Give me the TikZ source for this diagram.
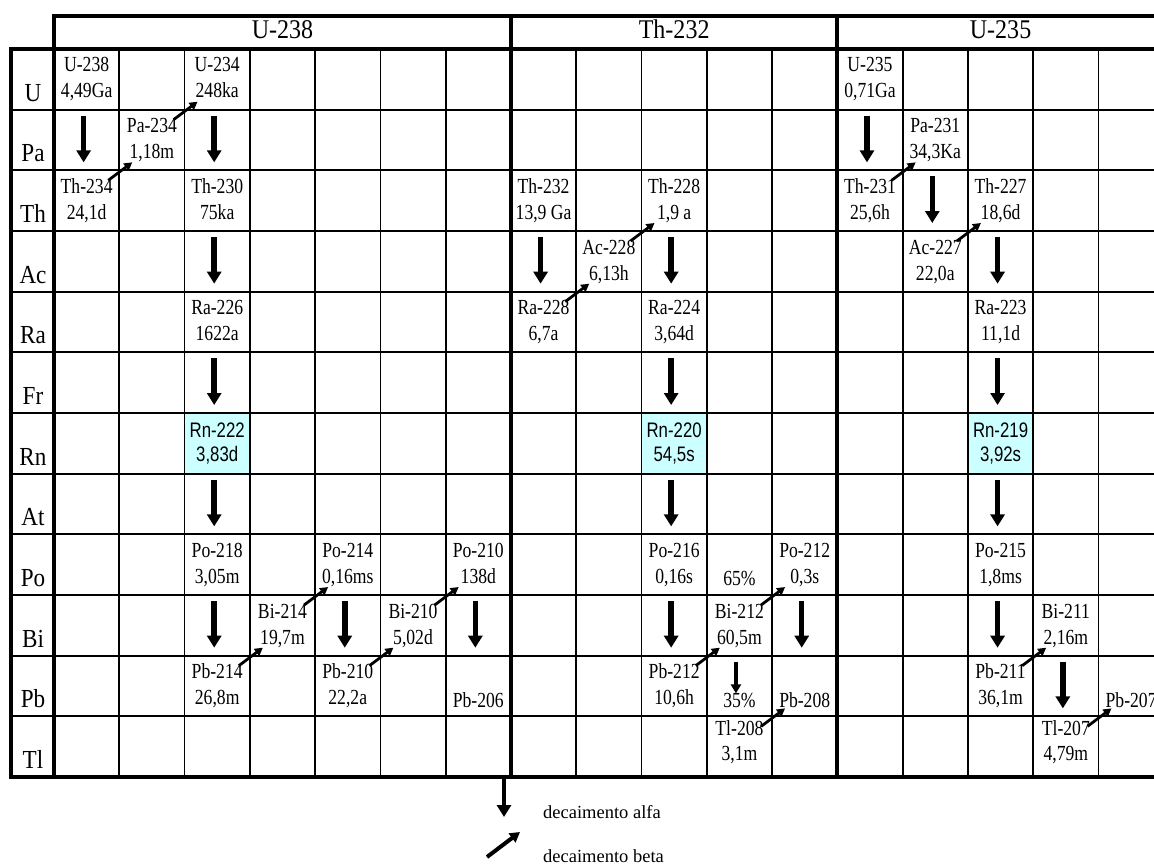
\documentclass[tikz,border=0pt]{standalone}
\usepackage{fontspec}
\setmainfont{Liberation Serif}
\newfontfamily\cellf[FakeStretch=0.82]{Liberation Serif}
\newfontfamily\rnf[FakeStretch=0.80]{Liberation Sans}
\newfontfamily\headf[FakeStretch=0.89]{Liberation Serif}
\usetikzlibrary{arrows.meta,calc}
\definecolor{rncyan}{RGB}{204,255,255}
\pgfdeclarelayer{gridlayer}
\pgfdeclarelayer{fglayer}
\pgfsetlayers{main,gridlayer,fglayer}
\def\W{65.28}
\def\H{60.67}
\tikzset{
  cell/.style={minimum width=65.28pt, minimum height=60.67pt, inner sep=0pt, outer sep=0pt, draw=none},
  rncell/.style={cell, fill=rncyan},
  ctext/.style={anchor=base, inner sep=0pt, font=\cellf\fontsize{21.5}{26}\selectfont},
  rtext/.style={anchor=base, inner sep=0pt, font=\rnf\fontsize{21}{25}\selectfont},
  rlabel/.style={anchor=base, inner sep=0pt, font=\headf\fontsize{26}{30}\selectfont},
  headtext/.style={anchor=base, inner sep=0pt, font=\headf\fontsize{27}{32}\selectfont},
  legendtext/.style={anchor=base west, inner sep=0pt, font=\fontsize{18.5}{22}\selectfont},
  gridthin/.style={line width=1.8pt},
  gridthick/.style={line width=4pt},
  alphaarrow/.style={line width=5.5pt, -{Triangle[width=14pt,length=12pt]}},
  betaarrow/.style={line width=2.8pt, -{Triangle[width=8.5pt,length=8pt]}},
}
% name, col, row, line1, line2
\newcommand{\nuc}[5]{%
  \node[cell] (#1) at ({54+(#2-0.5)*\W},{49+(#3-0.5)*\H}) {};
  \node[ctext] (#1-a) at ([yshift=-23pt]#1.north) {#4};
  \node[ctext] (#1-b) at ([yshift=-49pt]#1.north) {#5};}
\newcommand{\nucT}[5]{%
  \node[cell] (#1) at ({54+(#2-0.5)*\W},{49+(#3-0.5)*\H}) {};
  \node[ctext] (#1-a) at ([yshift=-19pt]#1.north) {#4};
  \node[ctext] (#1-b) at ([yshift=-44pt]#1.north) {#5};}
\newcommand{\rnuc}[5]{%
  \node[rncell] (#1) at ({54+(#2-0.5)*\W},{49+(#3-0.5)*\H}) {};
  \node[rtext] (#1-a) at ([yshift=-24pt]#1.north) {#4};
  \node[rtext] (#1-b) at ([yshift=-48.5pt]#1.north) {#5};}
\newcommand{\onenuc}[4]{%
  \node[cell] (#1) at ({54+(#2-0.5)*\W},{49+(#3-0.5)*\H}) {};
  \node[ctext] (#1-a) at ([yshift=-51.5pt]#1.north) {#4};}
\newcommand{\alf}[2]{\draw[alphaarrow] ([xshift=-3pt,yshift=-6pt]#1.south) -- ([xshift=-3pt,yshift=8pt]#2.north);}
\newcommand{\bet}[2]{\draw[betaarrow] ([xshift=-11pt,yshift=-10pt]#1.north east) -- ([xshift=13pt,yshift=8pt]#2.south west);}

\begin{document}
\begin{tikzpicture}[x=1pt,y=-1pt]
\useasboundingbox (0,0) rectangle (1154,866);
\clip (0,0) rectangle (1154,866);

% headers
\node[headtext] (hU238) at (282.5,38.5) {U-238};
\node[headtext] (hTh232) at ({54+9.5*\W},38.5) {Th-232};
\node[headtext] (hU235) at ({54+14.5*\W},38.5) {U-235};

% row labels
\foreach \lab [count=\j] in {U,Pa,Th,Ac,Ra,Fr,Rn,At,Po,Bi,Pb,Tl}
  \node[rlabel] (row-\lab) at (33,{49+\j*\H-8.5}) {\lab};

% U-238 series
\nuc{U238}{1}{1}{U-238}{4,49Ga}
\nuc{U234}{3}{1}{U-234}{248ka}
\nuc{Pa234}{2}{2}{Pa-234}{1,18m}
\nuc{Th234}{1}{3}{Th-234}{24,1d}
\nuc{Th230}{3}{3}{Th-230}{75ka}
\nuc{Ra226}{3}{5}{Ra-226}{1622a}
\rnuc{Rn222}{3}{7}{Rn-222}{3,83d}
\nuc{Po218}{3}{9}{Po-218}{3,05m}
\nuc{Pb214}{3}{11}{Pb-214}{26,8m}
\nuc{Bi214}{4}{10}{Bi-214}{19,7m}
\nuc{Po214}{5}{9}{Po-214}{0,16ms}
\nuc{Pb210}{5}{11}{Pb-210}{22,2a}
\nuc{Bi210}{6}{10}{Bi-210}{5,02d}
\nuc{Po210}{7}{9}{Po-210}{138d}
\onenuc{Pb206}{7}{11}{Pb-206}

% Th-232 series
\nuc{Th232}{8}{3}{Th-232}{13,9 Ga}
\nuc{Ra228}{8}{5}{Ra-228}{6,7a}
\nuc{Ac228}{9}{4}{Ac-228}{6,13h}
\nuc{Th228}{10}{3}{Th-228}{1,9 a}
\nuc{Ra224}{10}{5}{Ra-224}{3,64d}
\rnuc{Rn220}{10}{7}{Rn-220}{54,5s}
\nuc{Po216}{10}{9}{Po-216}{0,16s}
\nuc{Pb212}{10}{11}{Pb-212}{10,6h}
\nuc{Bi212}{11}{10}{Bi-212}{60,5m}
\nuc{Po212}{12}{9}{Po-212}{0,3s}
\nucT{Tl208}{11}{12}{Tl-208}{3,1m}
\onenuc{Pb208}{12}{11}{Pb-208}
\onenuc{br65}{11}{9}{65\%}
\onenuc{br35}{11}{11}{35\%}

% U-235 series
\nuc{U235}{13}{1}{U-235}{0,71Ga}
\nuc{Pa231}{14}{2}{Pa-231}{34,3Ka}
\nuc{Th231}{13}{3}{Th-231}{25,6h}
\nuc{Ac227}{14}{4}{Ac-227}{22,0a}
\nuc{Th227}{15}{3}{Th-227}{18,6d}
\nuc{Ra223}{15}{5}{Ra-223}{11,1d}
\rnuc{Rn219}{15}{7}{Rn-219}{3,92s}
\nuc{Po215}{15}{9}{Po-215}{1,8ms}
\nuc{Pb211}{15}{11}{Pb-211}{36,1m}
\nuc{Bi211}{16}{10}{Bi-211}{2,16m}
\nucT{Tl207}{16}{12}{Tl-207}{4,79m}
\onenuc{Pb207}{17}{11}{Pb-207}

% grid
\begin{pgfonlayer}{gridlayer}
\foreach \j in {1,...,11}
  \draw[gridthin] (11,{49+\j*\H}) -- (1166,{49+\j*\H});
\foreach \i in {1,2,3,4,5,6,8,9,10,11,13,14,15,16}
  \draw[gridthin] ({54+\i*\W},49) -- ({54+\i*\W},777);
\draw[gridthick] (52,16) -- (1166,16);
\draw[gridthick] (9,49) -- (1166,49);
\draw[gridthick] (9,777) -- (1166,777);
\draw[gridthick] (11,47) -- (11,779);
\draw[gridthick] (54,14) -- (54,779);
\draw[gridthick] ({54+7*\W},14) -- ({54+7*\W},779);
\draw[gridthick] ({54+12*\W},14) -- ({54+12*\W},779);
\end{pgfonlayer}

% decay arrows
\begin{pgfonlayer}{fglayer}
\alf{U238}{Th234}
\alf{U234}{Th230}
\alf{Th230}{Ra226}
\alf{Ra226}{Rn222}
\alf{Rn222}{Po218}
\alf{Po218}{Pb214}
\alf{Po214}{Pb210}
\alf{Po210}{Pb206}
\alf{Th232}{Ra228}
\alf{Th228}{Ra224}
\alf{Ra224}{Rn220}
\alf{Rn220}{Po216}
\alf{Po216}{Pb212}
\alf{Po212}{Pb208}
\draw[alphaarrow, line width=3.5pt, -{Triangle[width=10pt,length=9pt]}]
  ([xshift=-3.5pt,yshift=-6pt]Bi212.south) -- ([xshift=-3.5pt,yshift=23pt]Tl208.north);
\alf{U235}{Th231}
\alf{Pa231}{Ac227}
\alf{Th227}{Ra223}
\alf{Ra223}{Rn219}
\alf{Rn219}{Po215}
\alf{Po215}{Pb211}
\alf{Bi211}{Tl207}

\bet{Th234}{Pa234}
\bet{Pa234}{U234}
\bet{Ra228}{Ac228}
\bet{Ac228}{Th228}
\bet{Th231}{Pa231}
\bet{Ac227}{Th227}
\bet{Pb214}{Bi214}
\bet{Bi214}{Po214}
\bet{Pb210}{Bi210}
\bet{Bi210}{Po210}
\bet{Pb212}{Bi212}
\bet{Bi212}{Po212}
\bet{Tl208}{Pb208}
\bet{Pb211}{Bi211}
\bet{Tl207}{Pb207}

% legend
\coordinate (la-s) at (504,778);
\coordinate (la-e) at (504,817);
\draw[alphaarrow, line width=4.5pt] (la-s) -- (la-e);
\coordinate (lb-s) at (487,857);
\coordinate (lb-e) at (520,832);
\draw[betaarrow, line width=4pt, -{Triangle[width=11pt,length=10pt]}] (lb-s) -- (lb-e);
\end{pgfonlayer}
\node[legendtext] (leg-a) at (543,818) {decaimento alfa};
\node[legendtext] (leg-b) at (543,862) {decaimento beta};
\end{tikzpicture}
\end{document}
